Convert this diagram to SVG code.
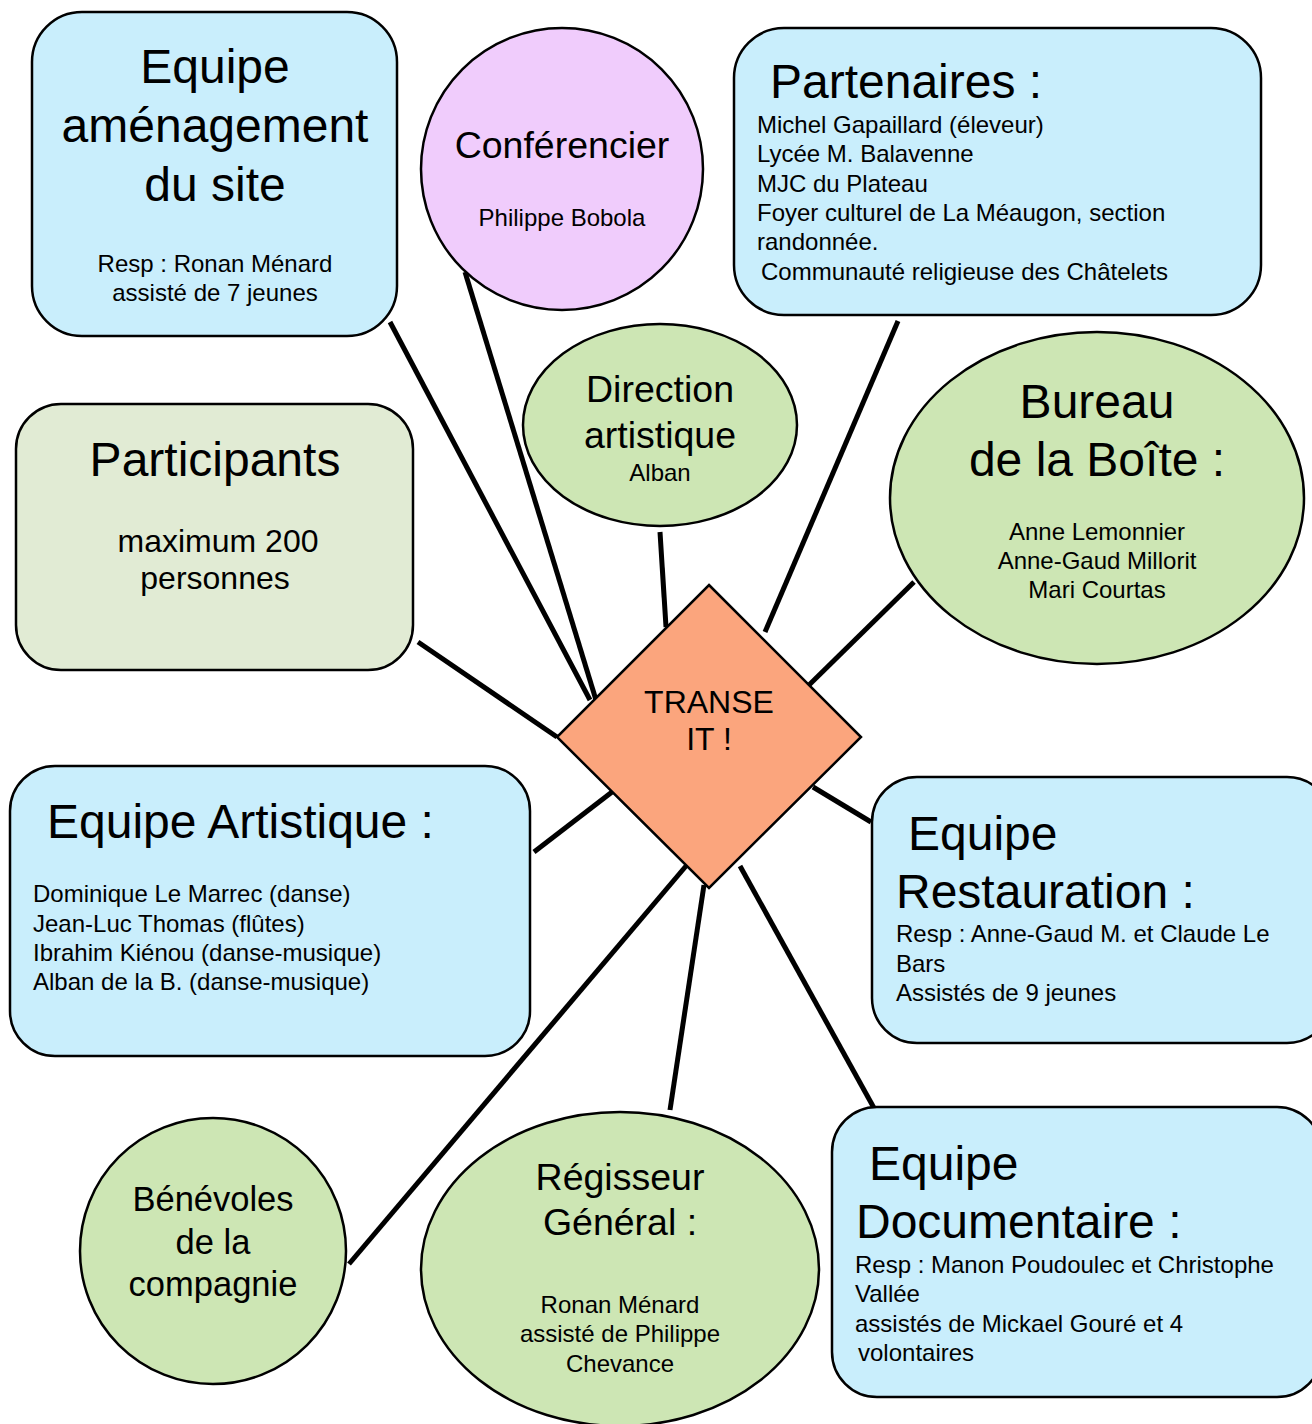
<svg xmlns="http://www.w3.org/2000/svg" width="1312" height="1424" viewBox="0 0 1312 1424">
<style>
text{font-family:"Liberation Sans",Arial,sans-serif;fill:#000}
.box{stroke:#000;stroke-width:2.5}
.blue{fill:#c9eefc}
.green{fill:#cde6b4}
.pale{fill:#e1ebd4}
.pink{fill:#f0ccfc}
.big{font-size:48px}
.mid{font-size:37.5px}
.sm{font-size:24px}
.c{text-anchor:middle}
.conn line{stroke:#000;stroke-width:5}
</style>
<rect width="1312" height="1424" fill="#fff"/>
<g class="conn">
<line x1="390" y1="322" x2="590" y2="700"/>
<line x1="465" y1="272" x2="596" y2="700"/>
<line x1="660" y1="532" x2="666" y2="627"/>
<line x1="898" y1="321" x2="765" y2="632"/>
<line x1="914" y1="582" x2="808" y2="686"/>
<line x1="418" y1="642" x2="557" y2="737"/>
<line x1="534" y1="852" x2="612" y2="792"/>
<line x1="813" y1="787" x2="871" y2="822"/>
<line x1="740" y1="866" x2="874" y2="1108"/>
<line x1="704" y1="885" x2="670" y2="1110"/>
<line x1="686" y1="866" x2="349" y2="1264"/>
</g>
<g id="amenagement">
<rect class="box blue" x="32" y="12" width="365" height="324" rx="50"/>
<text class="big c" x="215" y="83">Equipe</text>
<text class="big c" x="215" y="142">aménagement</text>
<text class="big c" x="215" y="201">du site</text>
<text class="sm c" x="215" y="272">Resp : Ronan Ménard</text>
<text class="sm c" x="215" y="301">assisté de 7 jeunes</text>
</g>
<g id="conferencier">
<ellipse class="box pink" cx="562" cy="169" rx="141" ry="141"/>
<text class="mid c" x="562" y="158">Conférencier</text>
<text class="sm c" x="562" y="226">Philippe Bobola</text>
</g>
<g id="partenaires">
<rect class="box blue" x="734" y="28" width="527" height="287" rx="50"/>
<text class="big" x="770" y="98">Partenaires :</text>
<text class="sm" x="757" y="133">Michel Gapaillard (éleveur)</text>
<text class="sm" x="757" y="162">Lycée M. Balavenne</text>
<text class="sm" x="757" y="192">MJC du Plateau</text>
<text class="sm" x="757" y="221">Foyer culturel de La Méaugon, section</text>
<text class="sm" x="757" y="250">randonnée.</text>
<text class="sm" x="761" y="280">Communauté religieuse des Châtelets</text>
</g>
<g id="direction">
<ellipse class="box green" cx="660" cy="425" rx="137" ry="101"/>
<text class="mid c" x="660" y="402">Direction</text>
<text class="mid c" x="660" y="448">artistique</text>
<text class="sm c" x="660" y="481">Alban</text>
</g>
<g id="bureau">
<ellipse class="box green" cx="1097" cy="498" rx="207" ry="166"/>
<text class="big c" x="1097" y="418">Bureau</text>
<text class="big c" x="1097" y="476">de la Boîte :</text>
<text class="sm c" x="1097" y="540">Anne Lemonnier</text>
<text class="sm c" x="1097" y="569">Anne-Gaud Millorit</text>
<text class="sm c" x="1097" y="598">Mari Courtas</text>
</g>
<g id="participants">
<rect class="box pale" x="16" y="404" width="397" height="266" rx="45"/>
<text class="big c" x="215" y="476">Participants</text>
<text class="c" x="218" y="552" font-size="32">maximum 200</text>
<text class="c" x="215" y="589" font-size="32">personnes</text>
</g>
<g id="transe">
<polygon class="box" fill="#fba57d" points="709,585 861,737 709,888 557,737"/>
<text class="c" x="709" y="713" font-size="32">TRANSE</text>
<text class="c" x="709" y="750" font-size="32">IT !</text>
</g>
<g id="artistique">
<rect class="box blue" x="10" y="766" width="520" height="290" rx="45"/>
<text class="big" x="47" y="838">Equipe Artistique :</text>
<text class="sm" x="33" y="902">Dominique Le Marrec (danse)</text>
<text class="sm" x="33" y="932">Jean-Luc Thomas (flûtes)</text>
<text class="sm" x="33" y="961">Ibrahim Kiénou (danse-musique)</text>
<text class="sm" x="33" y="990">Alban de la B. (danse-musique)</text>
</g>
<g id="restauration">
<rect class="box blue" x="872" y="777" width="460" height="266" rx="45"/>
<text class="big" x="908" y="850">Equipe</text>
<text class="big" x="896" y="908">Restauration :</text>
<text class="sm" x="896" y="942">Resp : Anne-Gaud M. et Claude Le</text>
<text class="sm" x="896" y="972">Bars</text>
<text class="sm" x="896" y="1001">Assistés de 9 jeunes</text>
</g>
<g id="benevoles">
<ellipse class="box green" cx="213" cy="1251" rx="133" ry="133"/>
<text class="c" x="213" y="1211" font-size="34.5">Bénévoles</text>
<text class="c" x="213" y="1254" font-size="34.5">de la</text>
<text class="c" x="213" y="1296" font-size="34.5">compagnie</text>
</g>
<g id="regisseur">
<ellipse class="box green" cx="620" cy="1269" rx="199" ry="157"/>
<text class="mid c" x="620" y="1190">Régisseur</text>
<text class="mid c" x="620" y="1235">Général :</text>
<text class="sm c" x="620" y="1313">Ronan Ménard</text>
<text class="sm c" x="620" y="1342">assisté de Philippe</text>
<text class="sm c" x="620" y="1372">Chevance</text>
</g>
<g id="documentaire">
<rect class="box blue" x="832" y="1107" width="490" height="290" rx="45"/>
<text class="big" x="869" y="1180">Equipe</text>
<text class="big" x="856" y="1238">Documentaire :</text>
<text class="sm" x="855" y="1273">Resp : Manon Poudoulec et Christophe</text>
<text class="sm" x="855" y="1302">Vallée</text>
<text class="sm" x="855" y="1332">assistés de Mickael Gouré et 4</text>
<text class="sm" x="858" y="1361">volontaires</text>
</g>
</svg>
